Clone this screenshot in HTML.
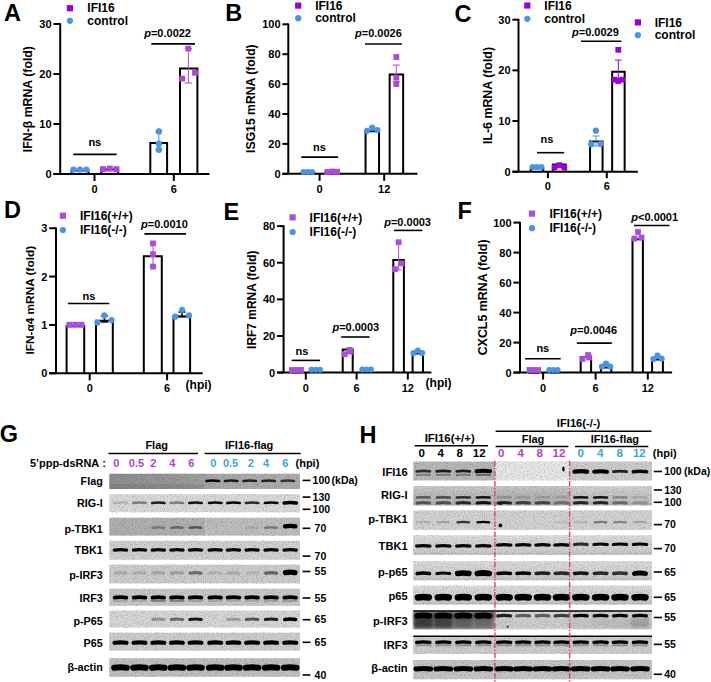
<!DOCTYPE html>
<html><head><meta charset="utf-8"><style>
html,body{margin:0;padding:0;background:#fff;overflow:hidden;}
svg{display:block;font-family:"Liberation Sans", sans-serif;}
</style></head><body>
<svg width="711" height="682" viewBox="0 0 711 682">
<rect width="711" height="682" fill="#fff"/>
<text x="4.00" y="20.80" font-size="23.5" text-anchor="start" fill="#000" font-weight="bold" >A</text>
<line x1="60.20" y1="23.20" x2="60.20" y2="174.00" stroke="#000" stroke-width="2" />
<line x1="53.40" y1="174.00" x2="60.20" y2="174.00" stroke="#000" stroke-width="2" />
<text x="51.60" y="177.96" font-size="11" text-anchor="end" fill="#000" font-weight="bold" >0</text>
<line x1="53.40" y1="124.00" x2="60.20" y2="124.00" stroke="#000" stroke-width="2" />
<text x="51.60" y="127.96" font-size="11" text-anchor="end" fill="#000" font-weight="bold" >10</text>
<line x1="53.40" y1="74.00" x2="60.20" y2="74.00" stroke="#000" stroke-width="2" />
<text x="51.60" y="77.96" font-size="11" text-anchor="end" fill="#000" font-weight="bold" >20</text>
<line x1="53.40" y1="24.00" x2="60.20" y2="24.00" stroke="#000" stroke-width="2" />
<text x="51.60" y="27.96" font-size="11" text-anchor="end" fill="#000" font-weight="bold" >30</text>
<path d="M71.60,174.00 V170.50 H88.40 V174.00" fill="#fff" stroke="#000" stroke-width="2"/>
<path d="M101.30,174.00 V169.50 H118.10 V174.00" fill="#fff" stroke="#000" stroke-width="2"/>
<path d="M150.30,174.00 V142.90 H167.10 V174.00" fill="#fff" stroke="#000" stroke-width="2"/>
<path d="M180.00,174.00 V68.60 H197.40 V174.00" fill="#fff" stroke="#000" stroke-width="2"/>
<line x1="53.40" y1="174.00" x2="209.40" y2="174.00" stroke="#000" stroke-width="2" />
<line x1="94.50" y1="174.00" x2="94.50" y2="181.00" stroke="#000" stroke-width="2" />
<text x="94.50" y="193.00" font-size="11" text-anchor="middle" fill="#000" font-weight="bold" >0</text>
<line x1="173.80" y1="174.00" x2="173.80" y2="181.00" stroke="#000" stroke-width="2" />
<text x="173.80" y="193.00" font-size="11" text-anchor="middle" fill="#000" font-weight="bold" >6</text>
<circle cx="73.50" cy="169.60" r="3.2" fill="#4a93e6"/>
<circle cx="79.90" cy="169.60" r="3.2" fill="#4a93e6"/>
<circle cx="86.30" cy="169.60" r="3.2" fill="#4a93e6"/>
<rect x="100.00" y="166.20" width="6" height="6" fill="#ac46de"/>
<rect x="106.70" y="165.60" width="6" height="6" fill="#ac46de"/>
<rect x="113.40" y="166.20" width="6" height="6" fill="#ac46de"/>
<line x1="158.90" y1="131.40" x2="158.90" y2="149.80" stroke="#4a93e6" stroke-width="1.0" />
<line x1="155.40" y1="131.40" x2="162.40" y2="131.40" stroke="#4a93e6" stroke-width="1.0" />
<line x1="155.40" y1="149.80" x2="162.40" y2="149.80" stroke="#4a93e6" stroke-width="1.0" />
<circle cx="158.90" cy="131.40" r="3.2" fill="#4a93e6"/>
<circle cx="158.90" cy="143.70" r="3.2" fill="#4a93e6"/>
<circle cx="158.90" cy="149.80" r="3.2" fill="#4a93e6"/>
<line x1="188.40" y1="48.60" x2="188.40" y2="83.00" stroke="#ac46de" stroke-width="1.0" />
<line x1="184.80" y1="48.60" x2="192.00" y2="48.60" stroke="#ac46de" stroke-width="1.0" />
<line x1="184.80" y1="83.00" x2="192.00" y2="83.00" stroke="#ac46de" stroke-width="1.0" />
<rect x="185.40" y="45.70" width="5.8" height="5.8" fill="#ac46de"/>
<rect x="179.20" y="75.70" width="5.8" height="5.8" fill="#ac46de"/>
<rect x="192.10" y="69.90" width="5.8" height="5.8" fill="#ac46de"/>
<text x="94.80" y="145.60" font-size="11" text-anchor="middle" fill="#000" font-weight="bold" >ns</text>
<line x1="73.30" y1="154.40" x2="116.60" y2="154.40" stroke="#000" stroke-width="1.6" />
<text x="144.20" y="36.90" font-size="11" text-anchor="start" font-weight="bold"><tspan font-style="italic">p</tspan>=0.0022</text>
<line x1="151.30" y1="43.90" x2="195.00" y2="43.90" stroke="#000" stroke-width="1.6" />
<rect x="66.80" y="5.10" width="6.2" height="6.2" fill="#9a00dc"/>
<circle cx="69.90" cy="20.80" r="3.1" fill="#4a93e6"/>
<text x="87.30" y="12.40" font-size="12" text-anchor="start" fill="#000" font-weight="bold" >IFI16</text>
<text x="87.30" y="24.80" font-size="12" text-anchor="start" fill="#000" font-weight="bold" >control</text>
<text transform="translate(32.20,99.10) rotate(-90)" x="0" y="0" font-size="12.3" text-anchor="middle" font-weight="bold">IFN-β mRNA (fold)</text>
<text x="225.20" y="20.80" font-size="23.5" text-anchor="start" fill="#000" font-weight="bold" >B</text>
<line x1="288.30" y1="23.50" x2="288.30" y2="173.80" stroke="#000" stroke-width="2" />
<line x1="282.40" y1="173.80" x2="288.30" y2="173.80" stroke="#000" stroke-width="2" />
<text x="280.60" y="177.76" font-size="11" text-anchor="end" fill="#000" font-weight="bold" >0</text>
<line x1="282.40" y1="143.90" x2="288.30" y2="143.90" stroke="#000" stroke-width="2" />
<text x="280.60" y="147.86" font-size="11" text-anchor="end" fill="#000" font-weight="bold" >20</text>
<line x1="282.40" y1="114.00" x2="288.30" y2="114.00" stroke="#000" stroke-width="2" />
<text x="280.60" y="117.96" font-size="11" text-anchor="end" fill="#000" font-weight="bold" >40</text>
<line x1="282.40" y1="84.10" x2="288.30" y2="84.10" stroke="#000" stroke-width="2" />
<text x="280.60" y="88.06" font-size="11" text-anchor="end" fill="#000" font-weight="bold" >60</text>
<line x1="282.40" y1="54.20" x2="288.30" y2="54.20" stroke="#000" stroke-width="2" />
<text x="280.60" y="58.16" font-size="11" text-anchor="end" fill="#000" font-weight="bold" >80</text>
<line x1="282.40" y1="24.30" x2="288.30" y2="24.30" stroke="#000" stroke-width="2" />
<text x="280.60" y="28.26" font-size="11" text-anchor="end" fill="#000" font-weight="bold" >100</text>
<path d="M301.05,173.80 V173.60 H314.55 V173.80" fill="#fff" stroke="#000" stroke-width="2"/>
<path d="M325.45,173.80 V173.01 H338.95 V173.80" fill="#fff" stroke="#000" stroke-width="2"/>
<path d="M365.55,173.80 V131.20 H379.05 V173.80" fill="#fff" stroke="#000" stroke-width="2"/>
<path d="M389.65,173.80 V74.40 H403.15 V173.80" fill="#fff" stroke="#000" stroke-width="2"/>
<line x1="282.40" y1="173.80" x2="417.40" y2="173.80" stroke="#000" stroke-width="2" />
<line x1="319.60" y1="173.80" x2="319.60" y2="180.80" stroke="#000" stroke-width="2" />
<text x="319.60" y="193.00" font-size="11" text-anchor="middle" fill="#000" font-weight="bold" >0</text>
<line x1="384.20" y1="173.80" x2="384.20" y2="180.80" stroke="#000" stroke-width="2" />
<text x="384.20" y="193.00" font-size="11" text-anchor="middle" fill="#000" font-weight="bold" >12</text>
<circle cx="303.50" cy="172.00" r="3.0" fill="#4a93e6"/>
<circle cx="307.80" cy="172.00" r="3.0" fill="#4a93e6"/>
<circle cx="312.10" cy="172.00" r="3.0" fill="#4a93e6"/>
<rect x="324.40" y="169.10" width="5.8" height="5.8" fill="#ac46de"/>
<rect x="329.30" y="168.60" width="5.8" height="5.8" fill="#ac46de"/>
<rect x="334.20" y="168.90" width="5.8" height="5.8" fill="#ac46de"/>
<circle cx="367.00" cy="130.80" r="3.1" fill="#4a93e6"/>
<circle cx="372.20" cy="127.50" r="3.1" fill="#4a93e6"/>
<circle cx="377.40" cy="130.00" r="3.1" fill="#4a93e6"/>
<line x1="396.30" y1="65.10" x2="396.30" y2="82.00" stroke="#ac46de" stroke-width="1.0" />
<line x1="392.70" y1="65.10" x2="399.90" y2="65.10" stroke="#ac46de" stroke-width="1.0" />
<line x1="392.70" y1="82.00" x2="399.90" y2="82.00" stroke="#ac46de" stroke-width="1.0" />
<rect x="393.40" y="54.10" width="5.8" height="5.8" fill="#ac46de"/>
<rect x="393.40" y="74.70" width="5.8" height="5.8" fill="#ac46de"/>
<rect x="393.40" y="81.10" width="5.8" height="5.8" fill="#ac46de"/>
<text x="319.40" y="150.60" font-size="11" text-anchor="middle" fill="#000" font-weight="bold" >ns</text>
<line x1="301.30" y1="157.10" x2="338.10" y2="157.10" stroke="#000" stroke-width="1.6" />
<text x="355.00" y="37.10" font-size="11" text-anchor="start" font-weight="bold"><tspan font-style="italic">p</tspan>=0.0026</text>
<line x1="365.00" y1="44.00" x2="401.90" y2="44.00" stroke="#000" stroke-width="1.6" />
<rect x="295.10" y="2.50" width="6.2" height="6.2" fill="#9a00dc"/>
<circle cx="298.20" cy="18.20" r="3.1" fill="#4a93e6"/>
<text x="315.20" y="9.80" font-size="12" text-anchor="start" fill="#000" font-weight="bold" >IFI16</text>
<text x="315.20" y="22.20" font-size="12" text-anchor="start" fill="#000" font-weight="bold" >control</text>
<text transform="translate(255.30,98.60) rotate(-90)" x="0" y="0" font-size="12.2" text-anchor="middle" font-weight="bold">ISG15 mRNA (fold)</text>
<text x="454.60" y="21.60" font-size="23.5" text-anchor="start" fill="#000" font-weight="bold" >C</text>
<line x1="518.50" y1="18.90" x2="518.50" y2="171.70" stroke="#000" stroke-width="2" />
<line x1="512.40" y1="171.70" x2="518.50" y2="171.70" stroke="#000" stroke-width="2" />
<text x="510.60" y="175.66" font-size="11" text-anchor="end" fill="#000" font-weight="bold" >0</text>
<line x1="512.40" y1="121.03" x2="518.50" y2="121.03" stroke="#000" stroke-width="2" />
<text x="510.60" y="124.99" font-size="11" text-anchor="end" fill="#000" font-weight="bold" >10</text>
<line x1="512.40" y1="70.37" x2="518.50" y2="70.37" stroke="#000" stroke-width="2" />
<text x="510.60" y="74.33" font-size="11" text-anchor="end" fill="#000" font-weight="bold" >20</text>
<line x1="512.40" y1="19.70" x2="518.50" y2="19.70" stroke="#000" stroke-width="2" />
<text x="510.60" y="23.66" font-size="11" text-anchor="end" fill="#000" font-weight="bold" >30</text>
<path d="M530.75,171.70 V168.14 H543.25 V171.70" fill="#fff" stroke="#000" stroke-width="2"/>
<path d="M553.15,171.70 V164.59 H565.65 V171.70" fill="#fff" stroke="#000" stroke-width="2"/>
<path d="M590.05,171.70 V141.60 H602.55 V171.70" fill="#fff" stroke="#000" stroke-width="2"/>
<path d="M612.15,171.70 V71.80 H624.65 V171.70" fill="#fff" stroke="#000" stroke-width="2"/>
<line x1="512.40" y1="171.70" x2="637.80" y2="171.70" stroke="#000" stroke-width="2" />
<line x1="547.90" y1="171.70" x2="547.90" y2="178.20" stroke="#000" stroke-width="2" />
<text x="547.90" y="189.80" font-size="11" text-anchor="middle" fill="#000" font-weight="bold" >0</text>
<line x1="606.80" y1="171.70" x2="606.80" y2="178.20" stroke="#000" stroke-width="2" />
<text x="606.80" y="189.80" font-size="11" text-anchor="middle" fill="#000" font-weight="bold" >6</text>
<circle cx="532.60" cy="167.10" r="3.0" fill="#4a93e6"/>
<circle cx="537.00" cy="167.10" r="3.0" fill="#4a93e6"/>
<circle cx="541.40" cy="167.10" r="3.0" fill="#4a93e6"/>
<rect x="551.60" y="164.60" width="5.8" height="5.8" fill="#9a00dc"/>
<rect x="556.50" y="162.30" width="5.8" height="5.8" fill="#9a00dc"/>
<rect x="561.40" y="164.60" width="5.8" height="5.8" fill="#9a00dc"/>
<line x1="595.90" y1="136.00" x2="595.90" y2="146.00" stroke="#4a93e6" stroke-width="1.0" />
<line x1="592.40" y1="136.00" x2="599.40" y2="136.00" stroke="#4a93e6" stroke-width="1.0" />
<line x1="592.40" y1="146.00" x2="599.40" y2="146.00" stroke="#4a93e6" stroke-width="1.0" />
<circle cx="595.90" cy="130.70" r="3.1" fill="#4a93e6"/>
<circle cx="591.20" cy="144.20" r="3.1" fill="#4a93e6"/>
<circle cx="600.60" cy="143.80" r="3.1" fill="#4a93e6"/>
<line x1="618.30" y1="60.10" x2="618.30" y2="80.00" stroke="#9a00dc" stroke-width="1.0" />
<line x1="614.80" y1="60.10" x2="621.80" y2="60.10" stroke="#9a00dc" stroke-width="1.0" />
<line x1="614.80" y1="80.00" x2="621.80" y2="80.00" stroke="#9a00dc" stroke-width="1.0" />
<rect x="615.40" y="46.90" width="5.8" height="5.8" fill="#9a00dc"/>
<rect x="611.50" y="76.80" width="5.8" height="5.8" fill="#9a00dc"/>
<rect x="619.30" y="76.80" width="5.8" height="5.8" fill="#9a00dc"/>
<rect x="615.40" y="78.10" width="5.8" height="5.8" fill="#9a00dc"/>
<text x="547.00" y="142.60" font-size="11" text-anchor="middle" fill="#000" font-weight="bold" >ns</text>
<line x1="537.00" y1="152.70" x2="564.20" y2="152.70" stroke="#000" stroke-width="1.6" />
<text x="572.00" y="35.70" font-size="11" text-anchor="start" font-weight="bold"><tspan font-style="italic">p</tspan>=0.0029</text>
<line x1="581.00" y1="41.30" x2="621.40" y2="41.30" stroke="#000" stroke-width="1.6" />
<rect x="524.20" y="2.40" width="6.2" height="6.2" fill="#9a00dc"/>
<circle cx="527.30" cy="18.80" r="3.1" fill="#4a93e6"/>
<text x="544.30" y="9.70" font-size="12" text-anchor="start" fill="#000" font-weight="bold" >IFI16</text>
<text x="544.30" y="22.80" font-size="12" text-anchor="start" fill="#000" font-weight="bold" >control</text>
<rect x="634.80" y="19.30" width="6.2" height="6.2" fill="#9a00dc"/>
<circle cx="637.90" cy="35.20" r="3.1" fill="#4a93e6"/>
<text x="654.70" y="26.60" font-size="12" text-anchor="start" fill="#000" font-weight="bold" >IFI16</text>
<text x="654.70" y="39.20" font-size="12" text-anchor="start" fill="#000" font-weight="bold" >control</text>
<text transform="translate(491.70,95.50) rotate(-90)" x="0" y="0" font-size="12.36" text-anchor="middle" font-weight="bold">IL-6 mRNA (fold)</text>
<text x="4.00" y="217.80" font-size="23.5" text-anchor="start" fill="#000" font-weight="bold" >D</text>
<line x1="56.00" y1="227.40" x2="56.00" y2="373.30" stroke="#000" stroke-width="2" />
<line x1="49.20" y1="373.30" x2="56.00" y2="373.30" stroke="#000" stroke-width="2" />
<text x="47.40" y="377.26" font-size="11" text-anchor="end" fill="#000" font-weight="bold" >0</text>
<line x1="49.20" y1="324.93" x2="56.00" y2="324.93" stroke="#000" stroke-width="2" />
<text x="47.40" y="328.89" font-size="11" text-anchor="end" fill="#000" font-weight="bold" >1</text>
<line x1="49.20" y1="276.57" x2="56.00" y2="276.57" stroke="#000" stroke-width="2" />
<text x="47.40" y="280.53" font-size="11" text-anchor="end" fill="#000" font-weight="bold" >2</text>
<line x1="49.20" y1="228.20" x2="56.00" y2="228.20" stroke="#000" stroke-width="2" />
<text x="47.40" y="232.16" font-size="11" text-anchor="end" fill="#000" font-weight="bold" >3</text>
<path d="M66.60,373.30 V325.93 H84.20 V373.30" fill="#fff" stroke="#000" stroke-width="2"/>
<path d="M96.00,373.30 V320.70 H112.80 V373.30" fill="#fff" stroke="#000" stroke-width="2"/>
<path d="M143.80,373.30 V256.30 H161.80 V373.30" fill="#fff" stroke="#000" stroke-width="2"/>
<path d="M173.50,373.30 V316.40 H190.10 V373.30" fill="#fff" stroke="#000" stroke-width="2"/>
<line x1="49.20" y1="373.30" x2="202.70" y2="373.30" stroke="#000" stroke-width="2" />
<line x1="89.70" y1="373.30" x2="89.70" y2="380.30" stroke="#000" stroke-width="2" />
<text x="89.70" y="391.50" font-size="11" text-anchor="middle" fill="#000" font-weight="bold" >0</text>
<line x1="167.10" y1="373.30" x2="167.10" y2="380.30" stroke="#000" stroke-width="2" />
<text x="167.10" y="391.50" font-size="11" text-anchor="middle" fill="#000" font-weight="bold" >6</text>
<text x="185.60" y="388.80" font-size="12" text-anchor="start" fill="#000" font-weight="bold" >(hpi)</text>
<rect x="66.40" y="321.80" width="6" height="6" fill="#a84fdc"/>
<rect x="72.40" y="321.80" width="6" height="6" fill="#a84fdc"/>
<rect x="78.40" y="321.80" width="6" height="6" fill="#a84fdc"/>
<line x1="104.40" y1="316.00" x2="104.40" y2="322.00" stroke="#000" stroke-width="1.5" />
<line x1="100.90" y1="316.00" x2="107.90" y2="316.00" stroke="#000" stroke-width="1.5" />
<line x1="100.90" y1="322.00" x2="107.90" y2="322.00" stroke="#000" stroke-width="1.5" />
<circle cx="104.30" cy="315.40" r="3.1" fill="#4a93e6"/>
<circle cx="97.40" cy="322.60" r="3.1" fill="#4a93e6"/>
<circle cx="111.60" cy="320.10" r="3.1" fill="#4a93e6"/>
<line x1="153.00" y1="243.40" x2="153.00" y2="266.60" stroke="#a84fdc" stroke-width="1.0" />
<line x1="149.50" y1="243.40" x2="156.50" y2="243.40" stroke="#a84fdc" stroke-width="1.0" />
<line x1="149.50" y1="266.60" x2="156.50" y2="266.60" stroke="#a84fdc" stroke-width="1.0" />
<rect x="150.10" y="240.50" width="5.8" height="5.8" fill="#a84fdc"/>
<rect x="150.10" y="251.30" width="5.8" height="5.8" fill="#a84fdc"/>
<rect x="150.10" y="263.70" width="5.8" height="5.8" fill="#a84fdc"/>
<line x1="182.00" y1="312.00" x2="182.00" y2="316.50" stroke="#000" stroke-width="1.5" />
<line x1="178.50" y1="312.00" x2="185.50" y2="312.00" stroke="#000" stroke-width="1.5" />
<line x1="178.50" y1="316.50" x2="185.50" y2="316.50" stroke="#000" stroke-width="1.5" />
<circle cx="182.10" cy="309.80" r="3.1" fill="#4a93e6"/>
<circle cx="175.20" cy="316.70" r="3.1" fill="#4a93e6"/>
<circle cx="189.00" cy="315.40" r="3.1" fill="#4a93e6"/>
<text x="89.00" y="300.20" font-size="11" text-anchor="middle" fill="#000" font-weight="bold" >ns</text>
<line x1="67.90" y1="303.50" x2="109.20" y2="303.50" stroke="#000" stroke-width="1.6" />
<text x="141.00" y="228.30" font-size="11" text-anchor="start" font-weight="bold"><tspan font-style="italic">p</tspan>=0.0010</text>
<line x1="144.40" y1="233.90" x2="186.00" y2="233.90" stroke="#000" stroke-width="1.6" />
<rect x="59.80" y="212.60" width="6.2" height="6.2" fill="#a84fdc"/>
<circle cx="62.90" cy="230.00" r="3.1" fill="#4a93e6"/>
<text x="80.00" y="219.90" font-size="12" text-anchor="start" fill="#000" font-weight="bold" >IFI16(+/+)</text>
<text x="80.00" y="234.00" font-size="12" text-anchor="start" fill="#000" font-weight="bold" >IFI16(-/-)</text>
<text transform="translate(34.10,300.20) rotate(-90)" x="0" y="0" font-size="11.84" text-anchor="middle" font-weight="bold">IFN-α4 mRNA (fold)</text>
<text x="223.60" y="219.60" font-size="23.5" text-anchor="start" fill="#000" font-weight="bold" >E</text>
<line x1="283.60" y1="225.30" x2="283.60" y2="372.60" stroke="#000" stroke-width="2" />
<line x1="277.00" y1="372.60" x2="283.60" y2="372.60" stroke="#000" stroke-width="2" />
<text x="275.20" y="376.56" font-size="11" text-anchor="end" fill="#000" font-weight="bold" >0</text>
<line x1="277.00" y1="335.98" x2="283.60" y2="335.98" stroke="#000" stroke-width="2" />
<text x="275.20" y="339.94" font-size="11" text-anchor="end" fill="#000" font-weight="bold" >20</text>
<line x1="277.00" y1="299.35" x2="283.60" y2="299.35" stroke="#000" stroke-width="2" />
<text x="275.20" y="303.31" font-size="11" text-anchor="end" fill="#000" font-weight="bold" >40</text>
<line x1="277.00" y1="262.73" x2="283.60" y2="262.73" stroke="#000" stroke-width="2" />
<text x="275.20" y="266.69" font-size="11" text-anchor="end" fill="#000" font-weight="bold" >60</text>
<line x1="277.00" y1="226.10" x2="283.60" y2="226.10" stroke="#000" stroke-width="2" />
<text x="275.20" y="230.06" font-size="11" text-anchor="end" fill="#000" font-weight="bold" >80</text>
<path d="M291.50,372.60 V372.14 H301.50 V372.60" fill="#fff" stroke="#000" stroke-width="2"/>
<path d="M310.70,372.60 V371.77 H320.70 V372.60" fill="#fff" stroke="#000" stroke-width="2"/>
<path d="M342.70,372.60 V349.50 H352.70 V372.60" fill="#fff" stroke="#000" stroke-width="2"/>
<path d="M361.60,372.60 V371.40 H371.60 V372.60" fill="#fff" stroke="#000" stroke-width="2"/>
<path d="M393.30,372.60 V260.10 H403.90 V372.60" fill="#fff" stroke="#000" stroke-width="2"/>
<path d="M412.60,372.60 V353.50 H423.00 V372.60" fill="#fff" stroke="#000" stroke-width="2"/>
<line x1="277.00" y1="372.60" x2="431.40" y2="372.60" stroke="#000" stroke-width="2" />
<line x1="305.80" y1="372.60" x2="305.80" y2="379.60" stroke="#000" stroke-width="2" />
<text x="305.80" y="391.50" font-size="11" text-anchor="middle" fill="#000" font-weight="bold" >0</text>
<line x1="356.60" y1="372.60" x2="356.60" y2="379.60" stroke="#000" stroke-width="2" />
<text x="356.60" y="391.50" font-size="11" text-anchor="middle" fill="#000" font-weight="bold" >6</text>
<line x1="407.80" y1="372.60" x2="407.80" y2="379.60" stroke="#000" stroke-width="2" />
<text x="407.80" y="391.50" font-size="11" text-anchor="middle" fill="#000" font-weight="bold" >12</text>
<text x="425.60" y="386.90" font-size="12" text-anchor="start" fill="#000" font-weight="bold" >(hpi)</text>
<rect x="289.10" y="367.10" width="5.8" height="5.8" fill="#a84fdc"/>
<rect x="293.60" y="367.10" width="5.8" height="5.8" fill="#a84fdc"/>
<rect x="298.10" y="367.10" width="5.8" height="5.8" fill="#a84fdc"/>
<circle cx="311.40" cy="369.80" r="3.0" fill="#4a93e6"/>
<circle cx="315.70" cy="369.80" r="3.0" fill="#4a93e6"/>
<circle cx="320.00" cy="369.80" r="3.0" fill="#4a93e6"/>
<rect x="341.90" y="351.30" width="5.8" height="5.8" fill="#a84fdc"/>
<rect x="347.30" y="348.70" width="5.8" height="5.8" fill="#a84fdc"/>
<rect x="346.70" y="347.00" width="5.8" height="5.8" fill="#a84fdc"/>
<circle cx="362.30" cy="369.50" r="3.0" fill="#4a93e6"/>
<circle cx="366.60" cy="369.50" r="3.0" fill="#4a93e6"/>
<circle cx="370.90" cy="369.50" r="3.0" fill="#4a93e6"/>
<line x1="398.60" y1="242.20" x2="398.60" y2="270.00" stroke="#a84fdc" stroke-width="1.0" />
<line x1="395.60" y1="242.20" x2="401.60" y2="242.20" stroke="#a84fdc" stroke-width="1.0" />
<line x1="395.60" y1="270.00" x2="401.60" y2="270.00" stroke="#a84fdc" stroke-width="1.0" />
<rect x="395.70" y="239.30" width="5.8" height="5.8" fill="#a84fdc"/>
<rect x="398.70" y="260.40" width="5.8" height="5.8" fill="#a84fdc"/>
<rect x="392.00" y="266.30" width="5.8" height="5.8" fill="#a84fdc"/>
<circle cx="413.50" cy="353.00" r="3.1" fill="#4a93e6"/>
<circle cx="417.80" cy="350.50" r="3.1" fill="#4a93e6"/>
<circle cx="422.10" cy="353.00" r="3.1" fill="#4a93e6"/>
<text x="302.00" y="354.80" font-size="11" text-anchor="middle" fill="#000" font-weight="bold" >ns</text>
<line x1="291.70" y1="360.40" x2="320.00" y2="360.40" stroke="#000" stroke-width="1.6" />
<text x="332.40" y="331.30" font-size="11" text-anchor="start" font-weight="bold"><tspan font-style="italic">p</tspan>=0.0003</text>
<line x1="341.20" y1="337.00" x2="369.60" y2="337.00" stroke="#000" stroke-width="1.6" />
<text x="384.20" y="226.40" font-size="11" text-anchor="start" font-weight="bold"><tspan font-style="italic">p</tspan>=0.0003</text>
<line x1="394.00" y1="230.40" x2="422.40" y2="230.40" stroke="#000" stroke-width="1.6" />
<rect x="289.50" y="214.30" width="6.2" height="6.2" fill="#a84fdc"/>
<circle cx="292.60" cy="232.00" r="3.1" fill="#4a93e6"/>
<text x="309.60" y="221.60" font-size="12" text-anchor="start" fill="#000" font-weight="bold" >IFI16(+/+)</text>
<text x="309.60" y="236.00" font-size="12" text-anchor="start" fill="#000" font-weight="bold" >IFI16(-/-)</text>
<text transform="translate(255.80,299.70) rotate(-90)" x="0" y="0" font-size="11.94" text-anchor="middle" font-weight="bold">IRF7 mRNA (fold)</text>
<text x="457.60" y="218.60" font-size="23.5" text-anchor="start" fill="#000" font-weight="bold" >F</text>
<line x1="520.00" y1="221.80" x2="520.00" y2="372.60" stroke="#000" stroke-width="2" />
<line x1="513.40" y1="372.60" x2="520.00" y2="372.60" stroke="#000" stroke-width="2" />
<text x="511.60" y="376.56" font-size="11" text-anchor="end" fill="#000" font-weight="bold" >0</text>
<line x1="513.40" y1="342.60" x2="520.00" y2="342.60" stroke="#000" stroke-width="2" />
<text x="511.60" y="346.56" font-size="11" text-anchor="end" fill="#000" font-weight="bold" >20</text>
<line x1="513.40" y1="312.60" x2="520.00" y2="312.60" stroke="#000" stroke-width="2" />
<text x="511.60" y="316.56" font-size="11" text-anchor="end" fill="#000" font-weight="bold" >40</text>
<line x1="513.40" y1="282.60" x2="520.00" y2="282.60" stroke="#000" stroke-width="2" />
<text x="511.60" y="286.56" font-size="11" text-anchor="end" fill="#000" font-weight="bold" >60</text>
<line x1="513.40" y1="252.60" x2="520.00" y2="252.60" stroke="#000" stroke-width="2" />
<text x="511.60" y="256.56" font-size="11" text-anchor="end" fill="#000" font-weight="bold" >80</text>
<line x1="513.40" y1="222.60" x2="520.00" y2="222.60" stroke="#000" stroke-width="2" />
<text x="511.60" y="226.56" font-size="11" text-anchor="end" fill="#000" font-weight="bold" >100</text>
<path d="M528.60,372.60 V372.40 H539.00 V372.60" fill="#fff" stroke="#000" stroke-width="2"/>
<path d="M548.20,372.60 V372.25 H558.60 V372.60" fill="#fff" stroke="#000" stroke-width="2"/>
<path d="M580.70,372.60 V356.90 H591.10 V372.60" fill="#fff" stroke="#000" stroke-width="2"/>
<path d="M600.90,372.60 V367.60 H611.30 V372.60" fill="#fff" stroke="#000" stroke-width="2"/>
<path d="M632.50,372.60 V239.30 H642.90 V372.60" fill="#fff" stroke="#000" stroke-width="2"/>
<path d="M652.10,372.60 V359.50 H662.90 V372.60" fill="#fff" stroke="#000" stroke-width="2"/>
<line x1="513.40" y1="372.60" x2="672.10" y2="372.60" stroke="#000" stroke-width="2" />
<line x1="543.10" y1="372.60" x2="543.10" y2="379.60" stroke="#000" stroke-width="2" />
<text x="543.10" y="391.50" font-size="11" text-anchor="middle" fill="#000" font-weight="bold" >0</text>
<line x1="595.60" y1="372.60" x2="595.60" y2="379.60" stroke="#000" stroke-width="2" />
<text x="595.60" y="391.50" font-size="11" text-anchor="middle" fill="#000" font-weight="bold" >6</text>
<line x1="647.80" y1="372.60" x2="647.80" y2="379.60" stroke="#000" stroke-width="2" />
<text x="647.80" y="391.50" font-size="11" text-anchor="middle" fill="#000" font-weight="bold" >12</text>
<rect x="526.60" y="367.10" width="5.8" height="5.8" fill="#a84fdc"/>
<rect x="530.90" y="367.10" width="5.8" height="5.8" fill="#a84fdc"/>
<rect x="535.20" y="367.10" width="5.8" height="5.8" fill="#a84fdc"/>
<circle cx="549.20" cy="370.00" r="3.0" fill="#4a93e6"/>
<circle cx="553.40" cy="370.00" r="3.0" fill="#4a93e6"/>
<circle cx="557.60" cy="370.00" r="3.0" fill="#4a93e6"/>
<rect x="579.60" y="356.10" width="5.8" height="5.8" fill="#a84fdc"/>
<rect x="585.10" y="352.10" width="5.8" height="5.8" fill="#a84fdc"/>
<rect x="586.10" y="354.60" width="5.8" height="5.8" fill="#a84fdc"/>
<circle cx="602.00" cy="366.50" r="3.1" fill="#4a93e6"/>
<circle cx="606.10" cy="363.50" r="3.1" fill="#4a93e6"/>
<circle cx="610.20" cy="366.50" r="3.1" fill="#4a93e6"/>
<rect x="635.10" y="229.10" width="5.8" height="5.8" fill="#a84fdc"/>
<rect x="631.60" y="235.60" width="5.8" height="5.8" fill="#a84fdc"/>
<rect x="638.60" y="234.60" width="5.8" height="5.8" fill="#a84fdc"/>
<circle cx="653.40" cy="359.00" r="3.1" fill="#4a93e6"/>
<circle cx="657.50" cy="355.50" r="3.1" fill="#4a93e6"/>
<circle cx="661.60" cy="358.50" r="3.1" fill="#4a93e6"/>
<text x="542.80" y="352.00" font-size="11" text-anchor="middle" fill="#000" font-weight="bold" >ns</text>
<line x1="525.10" y1="358.80" x2="560.70" y2="358.80" stroke="#000" stroke-width="1.6" />
<text x="570.30" y="333.90" font-size="11" text-anchor="start" font-weight="bold"><tspan font-style="italic">p</tspan>=0.0046</text>
<line x1="576.90" y1="343.10" x2="611.80" y2="343.10" stroke="#000" stroke-width="1.6" />
<text x="631.3" y="221" font-size="11" font-weight="bold"><tspan font-style="italic">p</tspan>&lt;0.0001</text>
<line x1="633.90" y1="225.50" x2="669.50" y2="225.50" stroke="#000" stroke-width="1.6" />
<rect x="528.90" y="210.50" width="6.2" height="6.2" fill="#a84fdc"/>
<circle cx="532.00" cy="228.20" r="3.1" fill="#4a93e6"/>
<text x="549.40" y="217.80" font-size="12" text-anchor="start" fill="#000" font-weight="bold" >IFI16(+/+)</text>
<text x="549.40" y="232.20" font-size="12" text-anchor="start" fill="#000" font-weight="bold" >IFI16(-/-)</text>
<text transform="translate(486.70,297.40) rotate(-90)" x="0" y="0" font-size="12.4" text-anchor="middle" font-weight="bold">CXCL5 mRNA (fold)</text>
<defs>
<filter id="noise" x="0" y="0" width="100%" height="100%"><feTurbulence type="fractalNoise" baseFrequency="0.9" numOctaves="2" seed="3"/><feColorMatrix type="matrix" values="0 0 0 0 0  0 0 0 0 0  0 0 0 0 0  2.2 0 0 0 -0.95"/></filter>
<filter id="bl20" filterUnits="userSpaceOnUse" x="0" y="0" width="711" height="682"><feGaussianBlur stdDeviation="1.8"/></filter>
<filter id="bl7" filterUnits="userSpaceOnUse" x="0" y="0" width="711" height="682"><feGaussianBlur stdDeviation="0.65"/></filter>
</defs>
<text x="-0.20" y="441.90" font-size="23.5" text-anchor="start" fill="#000" font-weight="bold" >G</text>
<text x="156.70" y="448.80" font-size="11" text-anchor="middle" fill="#000" font-weight="bold" >Flag</text>
<line x1="108.50" y1="453.40" x2="198.10" y2="453.40" stroke="#000" stroke-width="1.5" />
<text x="249.20" y="448.80" font-size="11" text-anchor="middle" fill="#000" font-weight="bold" >IFI16-flag</text>
<line x1="204.60" y1="453.40" x2="300.60" y2="453.40" stroke="#000" stroke-width="1.5" />
<text x="99.20" y="467.20" font-size="10.95" text-anchor="end" fill="#000" font-weight="bold" >5’ppp-dsRNA</text>
<text x="102.20" y="466.60" font-size="11" text-anchor="start" fill="#000" font-weight="bold" >:</text>
<text x="116.40" y="467.20" font-size="11" text-anchor="middle" fill="#b23fd0" font-weight="bold" >0</text>
<text x="136.50" y="467.20" font-size="11" text-anchor="middle" fill="#b23fd0" font-weight="bold" >0.5</text>
<text x="153.20" y="467.20" font-size="11" text-anchor="middle" fill="#b23fd0" font-weight="bold" >2</text>
<text x="172.20" y="467.20" font-size="11" text-anchor="middle" fill="#b23fd0" font-weight="bold" >4</text>
<text x="191.20" y="467.20" font-size="11" text-anchor="middle" fill="#b23fd0" font-weight="bold" >6</text>
<text x="213.30" y="467.20" font-size="11" text-anchor="middle" fill="#3aa4dc" font-weight="bold" >0</text>
<text x="230.60" y="467.20" font-size="11" text-anchor="middle" fill="#3aa4dc" font-weight="bold" >0.5</text>
<text x="250.70" y="467.20" font-size="11" text-anchor="middle" fill="#3aa4dc" font-weight="bold" >2</text>
<text x="266.00" y="467.20" font-size="11" text-anchor="middle" fill="#3aa4dc" font-weight="bold" >4</text>
<text x="285.30" y="467.20" font-size="11" text-anchor="middle" fill="#3aa4dc" font-weight="bold" >6</text>
<text x="295.50" y="467.20" font-size="11" text-anchor="start" fill="#000" font-weight="bold" >(hpi)</text>
<linearGradient id="fg" gradientUnits="userSpaceOnUse" x1="109" y1="0" x2="300" y2="0"><stop offset="0" stop-color="#909090"/><stop offset="0.35" stop-color="#9a9a9a"/><stop offset="0.5" stop-color="#a3a3a3"/><stop offset="0.56" stop-color="#acacac"/><stop offset="1" stop-color="#b0b0b0"/></linearGradient>
<rect x="109.30" y="473.80" width="190.70" height="15.20" fill="url(#fg)"/>
<rect x="109.30" y="484.00" width="95" height="5" fill="#000" opacity="0.08"/>
<rect x="109.30" y="473.80" width="190.70" height="15.20" fill="#000" filter="url(#noise)" opacity="0.22"/>
<g filter="url(#bl7)"><path d="M206.50,481.00 Q212.80,480.00 219.10,481.00" stroke="#000" stroke-opacity="1.00" stroke-width="2.40" stroke-linecap="round" fill="none"/><path d="M224.80,481.00 Q231.10,480.00 237.40,481.00" stroke="#000" stroke-opacity="0.85" stroke-width="2.40" stroke-linecap="round" fill="none"/><path d="M243.40,481.00 Q249.70,480.00 256.00,481.00" stroke="#000" stroke-opacity="0.80" stroke-width="2.40" stroke-linecap="round" fill="none"/><path d="M262.40,481.00 Q268.70,480.00 275.00,481.00" stroke="#000" stroke-opacity="0.80" stroke-width="2.40" stroke-linecap="round" fill="none"/><path d="M281.50,481.00 Q287.80,480.00 294.10,481.00" stroke="#000" stroke-opacity="0.70" stroke-width="2.40" stroke-linecap="round" fill="none"/></g>
<text x="102.80" y="485.30" font-size="10.8" text-anchor="end" fill="#000" font-weight="bold" >Flag</text>
<rect x="109.30" y="494.20" width="190.70" height="17.90" fill="#dcdcdc"/>
<rect x="109.30" y="494.20" width="190.70" height="17.90" fill="#000" filter="url(#noise)" opacity="0.22"/>
<g filter="url(#bl7)"><path d="M114.25,503.00 Q120.50,502.00 126.75,503.00" stroke="#000" stroke-opacity="0.15" stroke-width="2.50" stroke-linecap="round" fill="none"/><path d="M133.25,503.00 Q139.50,502.00 145.75,503.00" stroke="#000" stroke-opacity="0.40" stroke-width="2.50" stroke-linecap="round" fill="none"/><path d="M152.05,503.00 Q158.30,502.00 164.55,503.00" stroke="#000" stroke-opacity="0.85" stroke-width="2.50" stroke-linecap="round" fill="none"/><path d="M170.65,503.00 Q176.90,502.00 183.15,503.00" stroke="#000" stroke-opacity="0.40" stroke-width="2.50" stroke-linecap="round" fill="none"/><path d="M189.25,503.00 Q195.50,502.00 201.75,503.00" stroke="#000" stroke-opacity="0.90" stroke-width="2.50" stroke-linecap="round" fill="none"/><path d="M208.95,503.00 Q215.20,502.00 221.45,503.00" stroke="#000" stroke-opacity="0.95" stroke-width="2.50" stroke-linecap="round" fill="none"/><path d="M227.25,503.00 Q233.50,502.00 239.75,503.00" stroke="#000" stroke-opacity="1.00" stroke-width="2.50" stroke-linecap="round" fill="none"/><path d="M245.85,503.00 Q252.10,502.00 258.35,503.00" stroke="#000" stroke-opacity="0.80" stroke-width="2.50" stroke-linecap="round" fill="none"/><path d="M264.85,503.00 Q271.10,502.00 277.35,503.00" stroke="#000" stroke-opacity="0.97" stroke-width="2.50" stroke-linecap="round" fill="none"/><path d="M284.14,503.00 Q290.20,502.00 296.26,503.00" stroke="#000" stroke-opacity="1.00" stroke-width="3.62" stroke-linecap="round" fill="none"/></g>
<text x="102.80" y="507.20" font-size="10.8" text-anchor="end" fill="#000" font-weight="bold" >RIG-I</text>
<rect x="109.30" y="517.80" width="96.20" height="17.80" fill="#b2b2b2"/>
<rect x="205.50" y="517.80" width="94.50" height="17.80" fill="#c0c0c0"/>
<rect x="109.30" y="517.80" width="190.70" height="17.80" fill="#000" filter="url(#noise)" opacity="0.22"/>
<g filter="url(#bl7)"><path d="M152.60,527.70 Q158.30,526.70 164.00,527.70" stroke="#000" stroke-opacity="0.30" stroke-width="2.60" stroke-linecap="round" fill="none"/><path d="M171.20,527.70 Q176.90,526.70 182.60,527.70" stroke="#000" stroke-opacity="0.40" stroke-width="2.60" stroke-linecap="round" fill="none"/><path d="M189.80,527.70 Q195.50,526.70 201.20,527.70" stroke="#000" stroke-opacity="0.50" stroke-width="2.60" stroke-linecap="round" fill="none"/><path d="M246.40,527.70 Q252.10,526.70 257.80,527.70" stroke="#000" stroke-opacity="0.10" stroke-width="2.60" stroke-linecap="round" fill="none"/><path d="M265.40,527.70 Q271.10,526.70 276.80,527.70" stroke="#000" stroke-opacity="0.35" stroke-width="2.60" stroke-linecap="round" fill="none"/><path d="M284.93,526.40 Q290.20,525.40 295.47,526.40" stroke="#000" stroke-opacity="1.00" stroke-width="4.16" stroke-linecap="round" fill="none"/></g>
<text x="102.80" y="532.80" font-size="10.8" text-anchor="end" fill="#000" font-weight="bold" >p-TBK1</text>
<rect x="109.30" y="540.90" width="190.70" height="18.90" fill="#d3d3d3"/>
<rect x="109.30" y="540.90" width="190.70" height="18.90" fill="#000" filter="url(#noise)" opacity="0.22"/>
<g filter="url(#bl7)"><path d="M114.35,550.10 Q120.50,549.10 126.65,550.10" stroke="#000" stroke-opacity="0.97" stroke-width="3.20" stroke-linecap="round" fill="none"/><path d="M133.35,550.10 Q139.50,549.10 145.65,550.10" stroke="#000" stroke-opacity="0.97" stroke-width="3.20" stroke-linecap="round" fill="none"/><path d="M152.15,550.10 Q158.30,549.10 164.45,550.10" stroke="#000" stroke-opacity="0.97" stroke-width="3.20" stroke-linecap="round" fill="none"/><path d="M170.75,550.10 Q176.90,549.10 183.05,550.10" stroke="#000" stroke-opacity="0.97" stroke-width="3.20" stroke-linecap="round" fill="none"/><path d="M189.35,550.10 Q195.50,549.10 201.65,550.10" stroke="#000" stroke-opacity="0.97" stroke-width="3.20" stroke-linecap="round" fill="none"/><path d="M209.05,550.10 Q215.20,549.10 221.35,550.10" stroke="#000" stroke-opacity="0.97" stroke-width="3.20" stroke-linecap="round" fill="none"/><path d="M227.35,550.10 Q233.50,549.10 239.65,550.10" stroke="#000" stroke-opacity="0.97" stroke-width="3.20" stroke-linecap="round" fill="none"/><path d="M245.95,550.10 Q252.10,549.10 258.25,550.10" stroke="#000" stroke-opacity="0.97" stroke-width="3.20" stroke-linecap="round" fill="none"/><path d="M264.95,550.10 Q271.10,549.10 277.25,550.10" stroke="#000" stroke-opacity="0.97" stroke-width="3.20" stroke-linecap="round" fill="none"/><path d="M284.05,550.10 Q290.20,549.10 296.35,550.10" stroke="#000" stroke-opacity="0.97" stroke-width="3.20" stroke-linecap="round" fill="none"/></g>
<text x="102.80" y="554.10" font-size="10.8" text-anchor="end" fill="#000" font-weight="bold" >TBK1</text>
<rect x="109.30" y="564.80" width="190.70" height="18.50" fill="#cfcfcf"/>
<rect x="109.30" y="564.80" width="190.70" height="18.50" fill="#000" filter="url(#noise)" opacity="0.22"/>
<g filter="url(#bl7)"><path d="M115.10,573.10 Q120.50,572.10 125.90,573.10" stroke="#000" stroke-opacity="0.15" stroke-width="3.20" stroke-linecap="round" fill="none"/><path d="M134.10,573.10 Q139.50,572.10 144.90,573.10" stroke="#000" stroke-opacity="0.15" stroke-width="3.20" stroke-linecap="round" fill="none"/><path d="M152.90,573.10 Q158.30,572.10 163.70,573.10" stroke="#000" stroke-opacity="0.18" stroke-width="3.20" stroke-linecap="round" fill="none"/><path d="M171.50,573.10 Q176.90,572.10 182.30,573.10" stroke="#000" stroke-opacity="0.20" stroke-width="3.20" stroke-linecap="round" fill="none"/><path d="M190.10,573.10 Q195.50,572.10 200.90,573.10" stroke="#000" stroke-opacity="0.45" stroke-width="3.20" stroke-linecap="round" fill="none"/><path d="M209.80,573.10 Q215.20,572.10 220.60,573.10" stroke="#000" stroke-opacity="0.12" stroke-width="3.20" stroke-linecap="round" fill="none"/><path d="M228.10,573.10 Q233.50,572.10 238.90,573.10" stroke="#000" stroke-opacity="0.15" stroke-width="3.20" stroke-linecap="round" fill="none"/><path d="M246.70,573.10 Q252.10,572.10 257.50,573.10" stroke="#000" stroke-opacity="0.10" stroke-width="3.20" stroke-linecap="round" fill="none"/><path d="M265.70,573.10 Q271.10,572.10 276.50,573.10" stroke="#000" stroke-opacity="0.50" stroke-width="3.20" stroke-linecap="round" fill="none"/><path d="M285.57,572.60 Q290.20,571.60 294.83,572.60" stroke="#000" stroke-opacity="1.00" stroke-width="5.44" stroke-linecap="round" fill="none"/></g>
<text x="102.80" y="578.80" font-size="10.8" text-anchor="end" fill="#000" font-weight="bold" >p-IRF3</text>
<rect x="109.30" y="588.80" width="190.70" height="17.00" fill="#cbcbcb"/>
<rect x="109.30" y="588.80" width="190.70" height="17.00" fill="#000" filter="url(#noise)" opacity="0.22"/>
<g filter="url(#bl7)"><path d="M114.65,597.70 Q120.50,596.70 126.35,597.70" stroke="#000" stroke-opacity="1.00" stroke-width="3.80" stroke-linecap="round" fill="none"/><path d="M133.65,597.70 Q139.50,596.70 145.35,597.70" stroke="#000" stroke-opacity="1.00" stroke-width="3.80" stroke-linecap="round" fill="none"/><path d="M152.45,597.70 Q158.30,596.70 164.15,597.70" stroke="#000" stroke-opacity="1.00" stroke-width="3.80" stroke-linecap="round" fill="none"/><path d="M171.05,597.70 Q176.90,596.70 182.75,597.70" stroke="#000" stroke-opacity="1.00" stroke-width="3.80" stroke-linecap="round" fill="none"/><path d="M189.65,597.70 Q195.50,596.70 201.35,597.70" stroke="#000" stroke-opacity="1.00" stroke-width="3.80" stroke-linecap="round" fill="none"/><path d="M209.35,597.70 Q215.20,596.70 221.05,597.70" stroke="#000" stroke-opacity="1.00" stroke-width="3.80" stroke-linecap="round" fill="none"/><path d="M227.65,597.70 Q233.50,596.70 239.35,597.70" stroke="#000" stroke-opacity="1.00" stroke-width="3.80" stroke-linecap="round" fill="none"/><path d="M246.25,597.70 Q252.10,596.70 257.95,597.70" stroke="#000" stroke-opacity="1.00" stroke-width="3.80" stroke-linecap="round" fill="none"/><path d="M265.25,597.70 Q271.10,596.70 276.95,597.70" stroke="#000" stroke-opacity="1.00" stroke-width="3.80" stroke-linecap="round" fill="none"/><path d="M284.35,597.70 Q290.20,596.70 296.05,597.70" stroke="#000" stroke-opacity="1.00" stroke-width="3.80" stroke-linecap="round" fill="none"/><path d="M114.10,600.80 Q120.50,600.40 126.90,600.80" stroke="#000" stroke-opacity="0.15" stroke-width="2.20" stroke-linecap="round" fill="none"/><path d="M133.10,600.80 Q139.50,600.40 145.90,600.80" stroke="#000" stroke-opacity="0.15" stroke-width="2.20" stroke-linecap="round" fill="none"/><path d="M151.90,600.80 Q158.30,600.40 164.70,600.80" stroke="#000" stroke-opacity="0.35" stroke-width="2.20" stroke-linecap="round" fill="none"/><path d="M170.50,600.80 Q176.90,600.40 183.30,600.80" stroke="#000" stroke-opacity="0.35" stroke-width="2.20" stroke-linecap="round" fill="none"/><path d="M189.10,600.80 Q195.50,600.40 201.90,600.80" stroke="#000" stroke-opacity="0.20" stroke-width="2.20" stroke-linecap="round" fill="none"/><path d="M208.80,600.80 Q215.20,600.40 221.60,600.80" stroke="#000" stroke-opacity="0.15" stroke-width="2.20" stroke-linecap="round" fill="none"/><path d="M227.10,600.80 Q233.50,600.40 239.90,600.80" stroke="#000" stroke-opacity="0.15" stroke-width="2.20" stroke-linecap="round" fill="none"/><path d="M245.70,600.80 Q252.10,600.40 258.50,600.80" stroke="#000" stroke-opacity="0.15" stroke-width="2.20" stroke-linecap="round" fill="none"/><path d="M264.70,600.80 Q271.10,600.40 277.50,600.80" stroke="#000" stroke-opacity="0.20" stroke-width="2.20" stroke-linecap="round" fill="none"/><path d="M283.80,600.80 Q290.20,600.40 296.60,600.80" stroke="#000" stroke-opacity="0.20" stroke-width="2.20" stroke-linecap="round" fill="none"/></g>
<text x="102.80" y="601.60" font-size="10.8" text-anchor="end" fill="#000" font-weight="bold" >IRF3</text>
<rect x="109.30" y="610.60" width="190.70" height="16.90" fill="#d9d9d9"/>
<rect x="109.30" y="610.60" width="190.70" height="16.90" fill="#000" filter="url(#noise)" opacity="0.22"/>
<g filter="url(#bl7)"><path d="M152.45,619.50 Q158.30,618.50 164.15,619.50" stroke="#000" stroke-opacity="0.30" stroke-width="2.80" stroke-linecap="round" fill="none"/><path d="M171.05,619.50 Q176.90,618.50 182.75,619.50" stroke="#000" stroke-opacity="0.50" stroke-width="2.80" stroke-linecap="round" fill="none"/><path d="M189.65,619.50 Q195.50,618.50 201.35,619.50" stroke="#000" stroke-opacity="0.90" stroke-width="2.80" stroke-linecap="round" fill="none"/><path d="M227.65,619.50 Q233.50,618.50 239.35,619.50" stroke="#000" stroke-opacity="0.25" stroke-width="2.80" stroke-linecap="round" fill="none"/><path d="M246.25,619.50 Q252.10,618.50 257.95,619.50" stroke="#000" stroke-opacity="0.60" stroke-width="2.80" stroke-linecap="round" fill="none"/><path d="M265.25,619.50 Q271.10,618.50 276.95,619.50" stroke="#000" stroke-opacity="0.85" stroke-width="2.80" stroke-linecap="round" fill="none"/><path d="M284.77,619.50 Q290.20,618.50 295.63,619.50" stroke="#000" stroke-opacity="1.00" stroke-width="3.64" stroke-linecap="round" fill="none"/></g>
<text x="102.80" y="624.80" font-size="10.8" text-anchor="end" fill="#000" font-weight="bold" >p-P65</text>
<rect x="109.30" y="632.80" width="190.70" height="17.80" fill="#cfcfcf"/>
<rect x="109.30" y="632.80" width="190.70" height="17.80" fill="#000" filter="url(#noise)" opacity="0.22"/>
<g filter="url(#bl7)"><path d="M114.60,642.80 Q120.50,641.80 126.40,642.80" stroke="#000" stroke-opacity="1.00" stroke-width="4.20" stroke-linecap="round" fill="none"/><path d="M133.60,642.80 Q139.50,641.80 145.40,642.80" stroke="#000" stroke-opacity="1.00" stroke-width="4.20" stroke-linecap="round" fill="none"/><path d="M152.40,642.80 Q158.30,641.80 164.20,642.80" stroke="#000" stroke-opacity="1.00" stroke-width="4.20" stroke-linecap="round" fill="none"/><path d="M171.00,642.80 Q176.90,641.80 182.80,642.80" stroke="#000" stroke-opacity="1.00" stroke-width="4.20" stroke-linecap="round" fill="none"/><path d="M189.60,642.80 Q195.50,641.80 201.40,642.80" stroke="#000" stroke-opacity="1.00" stroke-width="4.20" stroke-linecap="round" fill="none"/><path d="M209.30,642.80 Q215.20,641.80 221.10,642.80" stroke="#000" stroke-opacity="1.00" stroke-width="4.20" stroke-linecap="round" fill="none"/><path d="M227.60,642.80 Q233.50,641.80 239.40,642.80" stroke="#000" stroke-opacity="1.00" stroke-width="4.20" stroke-linecap="round" fill="none"/><path d="M246.20,642.80 Q252.10,641.80 258.00,642.80" stroke="#000" stroke-opacity="1.00" stroke-width="4.20" stroke-linecap="round" fill="none"/><path d="M265.20,642.80 Q271.10,641.80 277.00,642.80" stroke="#000" stroke-opacity="1.00" stroke-width="4.20" stroke-linecap="round" fill="none"/><path d="M284.30,642.80 Q290.20,641.80 296.10,642.80" stroke="#000" stroke-opacity="1.00" stroke-width="4.20" stroke-linecap="round" fill="none"/></g>
<text x="102.80" y="646.50" font-size="10.8" text-anchor="end" fill="#000" font-weight="bold" >P65</text>
<rect x="109.30" y="658.20" width="190.70" height="18.60" fill="#c2c2c2"/>
<rect x="109.30" y="658.20" width="190.70" height="18.60" fill="#000" filter="url(#noise)" opacity="0.22"/>
<g filter="url(#bl7)"><path d="M114.20,667.70 Q120.50,666.70 126.80,667.70" stroke="#000" stroke-opacity="1.00" stroke-width="6.00" stroke-linecap="round" fill="none"/><path d="M133.20,667.70 Q139.50,666.70 145.80,667.70" stroke="#000" stroke-opacity="1.00" stroke-width="6.00" stroke-linecap="round" fill="none"/><path d="M152.00,667.70 Q158.30,666.70 164.60,667.70" stroke="#000" stroke-opacity="1.00" stroke-width="6.00" stroke-linecap="round" fill="none"/><path d="M170.60,667.70 Q176.90,666.70 183.20,667.70" stroke="#000" stroke-opacity="1.00" stroke-width="6.00" stroke-linecap="round" fill="none"/><path d="M189.20,667.70 Q195.50,666.70 201.80,667.70" stroke="#000" stroke-opacity="1.00" stroke-width="6.00" stroke-linecap="round" fill="none"/><path d="M208.90,667.70 Q215.20,666.70 221.50,667.70" stroke="#000" stroke-opacity="1.00" stroke-width="6.00" stroke-linecap="round" fill="none"/><path d="M227.20,667.70 Q233.50,666.70 239.80,667.70" stroke="#000" stroke-opacity="1.00" stroke-width="6.00" stroke-linecap="round" fill="none"/><path d="M245.80,667.70 Q252.10,666.70 258.40,667.70" stroke="#000" stroke-opacity="1.00" stroke-width="6.00" stroke-linecap="round" fill="none"/><path d="M264.80,667.70 Q271.10,666.70 277.40,667.70" stroke="#000" stroke-opacity="1.00" stroke-width="6.00" stroke-linecap="round" fill="none"/><path d="M283.90,667.70 Q290.20,666.70 296.50,667.70" stroke="#000" stroke-opacity="1.00" stroke-width="6.00" stroke-linecap="round" fill="none"/></g>
<text x="102.80" y="670.50" font-size="10.8" text-anchor="end" fill="#000" font-weight="bold" >β-actin</text>
<line x1="302.60" y1="480.40" x2="310.40" y2="480.40" stroke="#000" stroke-width="1.6" />
<text x="312.60" y="484.18" font-size="10.5" text-anchor="start" fill="#000" font-weight="bold" >100</text>
<line x1="302.60" y1="497.10" x2="310.40" y2="497.10" stroke="#000" stroke-width="1.6" />
<text x="312.60" y="500.88" font-size="10.5" text-anchor="start" fill="#000" font-weight="bold" >130</text>
<line x1="302.60" y1="509.30" x2="310.40" y2="509.30" stroke="#000" stroke-width="1.6" />
<text x="312.60" y="513.08" font-size="10.5" text-anchor="start" fill="#000" font-weight="bold" >100</text>
<line x1="302.60" y1="528.30" x2="310.40" y2="528.30" stroke="#000" stroke-width="1.6" />
<text x="314.60" y="532.08" font-size="10.5" text-anchor="start" fill="#000" font-weight="bold" >70</text>
<line x1="302.60" y1="556.10" x2="310.40" y2="556.10" stroke="#000" stroke-width="1.6" />
<text x="314.60" y="559.88" font-size="10.5" text-anchor="start" fill="#000" font-weight="bold" >70</text>
<line x1="302.60" y1="571.50" x2="310.40" y2="571.50" stroke="#000" stroke-width="1.6" />
<text x="314.60" y="575.28" font-size="10.5" text-anchor="start" fill="#000" font-weight="bold" >55</text>
<line x1="302.60" y1="598.00" x2="310.40" y2="598.00" stroke="#000" stroke-width="1.6" />
<text x="314.60" y="601.78" font-size="10.5" text-anchor="start" fill="#000" font-weight="bold" >55</text>
<line x1="302.60" y1="619.70" x2="310.40" y2="619.70" stroke="#000" stroke-width="1.6" />
<text x="314.60" y="623.48" font-size="10.5" text-anchor="start" fill="#000" font-weight="bold" >65</text>
<line x1="302.60" y1="642.30" x2="310.40" y2="642.30" stroke="#000" stroke-width="1.6" />
<text x="314.60" y="646.08" font-size="10.5" text-anchor="start" fill="#000" font-weight="bold" >65</text>
<line x1="302.60" y1="675.00" x2="310.40" y2="675.00" stroke="#000" stroke-width="1.6" />
<text x="314.60" y="678.78" font-size="10.5" text-anchor="start" fill="#000" font-weight="bold" >40</text>
<text x="331.60" y="484.20" font-size="10.5" text-anchor="start" fill="#000" font-weight="bold" >(kDa)</text>
<text x="359.60" y="442.60" font-size="23.5" text-anchor="start" fill="#000" font-weight="bold" >H</text>
<text x="449.70" y="441.60" font-size="11.4" text-anchor="middle" fill="#000" font-weight="bold" >IFI16(+/+)</text>
<line x1="414.60" y1="445.80" x2="488.00" y2="445.80" stroke="#000" stroke-width="1.5" />
<text x="578.60" y="427.40" font-size="11.2" text-anchor="middle" fill="#000" font-weight="bold" >IFI16(-/-)</text>
<line x1="495.60" y1="431.20" x2="651.50" y2="431.20" stroke="#000" stroke-width="1.5" />
<text x="533.00" y="443.40" font-size="11" text-anchor="middle" fill="#000" font-weight="bold" >Flag</text>
<line x1="495.60" y1="446.40" x2="568.40" y2="446.40" stroke="#000" stroke-width="1.5" />
<text x="614.90" y="443.40" font-size="11" text-anchor="middle" fill="#000" font-weight="bold" >IFI16-flag</text>
<line x1="574.90" y1="446.40" x2="648.30" y2="446.40" stroke="#000" stroke-width="1.5" />
<text x="421.60" y="457.30" font-size="11.5" text-anchor="middle" fill="#000" font-weight="bold" >0</text>
<text x="440.60" y="457.30" font-size="11.5" text-anchor="middle" fill="#000" font-weight="bold" >4</text>
<text x="459.80" y="457.30" font-size="11.5" text-anchor="middle" fill="#000" font-weight="bold" >8</text>
<text x="479.20" y="457.30" font-size="11.5" text-anchor="middle" fill="#000" font-weight="bold" >12</text>
<text x="501.30" y="457.30" font-size="11.5" text-anchor="middle" fill="#b23fd0" font-weight="bold" >0</text>
<text x="520.60" y="457.30" font-size="11.5" text-anchor="middle" fill="#b23fd0" font-weight="bold" >4</text>
<text x="539.60" y="457.30" font-size="11.5" text-anchor="middle" fill="#b23fd0" font-weight="bold" >8</text>
<text x="559.00" y="457.30" font-size="11.5" text-anchor="middle" fill="#b23fd0" font-weight="bold" >12</text>
<text x="580.80" y="457.30" font-size="11.5" text-anchor="middle" fill="#3aa4dc" font-weight="bold" >0</text>
<text x="600.20" y="457.30" font-size="11.5" text-anchor="middle" fill="#3aa4dc" font-weight="bold" >4</text>
<text x="619.80" y="457.30" font-size="11.5" text-anchor="middle" fill="#3aa4dc" font-weight="bold" >8</text>
<text x="639.30" y="457.30" font-size="11.5" text-anchor="middle" fill="#3aa4dc" font-weight="bold" >12</text>
<text x="652.80" y="457.00" font-size="11" text-anchor="start" fill="#000" font-weight="bold" >(hpi)</text>
<rect x="413.30" y="461.60" width="81.50" height="18.80" fill="#bababa"/>
<rect x="494.80" y="461.60" width="74.70" height="18.80" fill="#e9e9e9"/>
<rect x="569.50" y="461.60" width="82.50" height="18.80" fill="#cfcfcf"/>
<rect x="413.30" y="461.60" width="238.70" height="18.80" fill="#000" filter="url(#noise)" opacity="0.22"/>
<g filter="url(#bl7)"><path d="M416.65,471.30 Q423.30,470.30 429.95,471.30" stroke="#000" stroke-opacity="0.75" stroke-width="2.70" stroke-linecap="round" fill="none"/><path d="M436.65,471.30 Q443.30,470.30 449.95,471.30" stroke="#000" stroke-opacity="0.85" stroke-width="2.70" stroke-linecap="round" fill="none"/><path d="M456.65,471.30 Q463.30,470.30 469.95,471.30" stroke="#000" stroke-opacity="0.85" stroke-width="2.70" stroke-linecap="round" fill="none"/><path d="M476.52,471.30 Q483.30,470.30 490.08,471.30" stroke="#000" stroke-opacity="1.00" stroke-width="4.05" stroke-linecap="round" fill="none"/><path d="M574.56,471.70 Q580.80,470.70 587.04,471.70" stroke="#000" stroke-opacity="1.00" stroke-width="4.32" stroke-linecap="round" fill="none"/><path d="M594.16,471.70 Q600.60,470.70 607.04,471.70" stroke="#000" stroke-opacity="1.00" stroke-width="3.92" stroke-linecap="round" fill="none"/><path d="M613.35,471.70 Q620.00,470.70 626.65,471.70" stroke="#000" stroke-opacity="0.85" stroke-width="2.70" stroke-linecap="round" fill="none"/><path d="M633.36,471.70 Q640.00,470.70 646.64,471.70" stroke="#000" stroke-opacity="0.95" stroke-width="3.51" stroke-linecap="round" fill="none"/><path d="M416.80,475.00 Q423.30,474.60 429.80,475.00" stroke="#000" stroke-opacity="0.30" stroke-width="2.00" stroke-linecap="round" fill="none"/><path d="M436.80,475.00 Q443.30,474.60 449.80,475.00" stroke="#000" stroke-opacity="0.35" stroke-width="2.00" stroke-linecap="round" fill="none"/><path d="M456.80,475.00 Q463.30,474.60 469.80,475.00" stroke="#000" stroke-opacity="0.35" stroke-width="2.00" stroke-linecap="round" fill="none"/><path d="M476.80,475.00 Q483.30,474.60 489.80,475.00" stroke="#000" stroke-opacity="0.45" stroke-width="2.00" stroke-linecap="round" fill="none"/></g>
<text x="407.60" y="476.10" font-size="11.1" text-anchor="end" fill="#000" font-weight="bold" >IFI16</text>
<rect x="413.30" y="486.00" width="81.50" height="19.40" fill="#bcbcbc"/>
<rect x="494.80" y="486.00" width="74.70" height="19.40" fill="#b8b8b8"/>
<rect x="569.50" y="486.00" width="82.50" height="19.40" fill="#c7c7c7"/>
<linearGradient id="gr110" x1="0" y1="0" x2="0" y2="1"><stop offset="0" stop-color="#fff" stop-opacity="0.25"/><stop offset="0.5" stop-color="#fff" stop-opacity="0"/><stop offset="1" stop-color="#000" stop-opacity="0.1"/></linearGradient>
<rect x="413.30" y="486.00" width="238.70" height="19.40" fill="url(#gr110)"/>
<rect x="413.30" y="486.00" width="238.70" height="19.40" fill="#000" filter="url(#noise)" opacity="0.22"/>
<g filter="url(#bl7)"><path d="M417.05,503.10 Q423.30,502.10 429.55,503.10" stroke="#000" stroke-opacity="0.50" stroke-width="3.00" stroke-linecap="round" fill="none"/><path d="M437.05,503.10 Q443.30,502.10 449.55,503.10" stroke="#000" stroke-opacity="0.55" stroke-width="3.00" stroke-linecap="round" fill="none"/><path d="M457.05,503.10 Q463.30,502.10 469.55,503.10" stroke="#000" stroke-opacity="0.75" stroke-width="3.00" stroke-linecap="round" fill="none"/><path d="M477.05,503.10 Q483.30,502.10 489.55,503.10" stroke="#000" stroke-opacity="0.90" stroke-width="3.00" stroke-linecap="round" fill="none"/><path d="M497.95,503.10 Q504.20,502.10 510.45,503.10" stroke="#000" stroke-opacity="0.80" stroke-width="3.00" stroke-linecap="round" fill="none"/><path d="M516.95,503.10 Q523.20,502.10 529.45,503.10" stroke="#000" stroke-opacity="0.65" stroke-width="3.00" stroke-linecap="round" fill="none"/><path d="M536.25,503.10 Q542.50,502.10 548.75,503.10" stroke="#000" stroke-opacity="0.60" stroke-width="3.00" stroke-linecap="round" fill="none"/><path d="M555.25,503.10 Q561.50,502.10 567.75,503.10" stroke="#000" stroke-opacity="0.35" stroke-width="3.00" stroke-linecap="round" fill="none"/><path d="M574.55,503.10 Q580.80,502.10 587.05,503.10" stroke="#000" stroke-opacity="0.80" stroke-width="3.00" stroke-linecap="round" fill="none"/><path d="M594.35,503.10 Q600.60,502.10 606.85,503.10" stroke="#000" stroke-opacity="0.80" stroke-width="3.00" stroke-linecap="round" fill="none"/><path d="M613.75,503.10 Q620.00,502.10 626.25,503.10" stroke="#000" stroke-opacity="0.40" stroke-width="3.00" stroke-linecap="round" fill="none"/><path d="M633.75,503.10 Q640.00,502.10 646.25,503.10" stroke="#000" stroke-opacity="0.20" stroke-width="3.00" stroke-linecap="round" fill="none"/><path d="M416.85,497.50 Q423.30,497.10 429.75,497.50" stroke="#000" stroke-opacity="0.50" stroke-width="2.60" stroke-linecap="round" fill="none"/><path d="M436.85,497.50 Q443.30,497.10 449.75,497.50" stroke="#000" stroke-opacity="0.60" stroke-width="2.60" stroke-linecap="round" fill="none"/><path d="M456.85,497.50 Q463.30,497.10 469.75,497.50" stroke="#000" stroke-opacity="0.75" stroke-width="2.60" stroke-linecap="round" fill="none"/><path d="M476.85,497.50 Q483.30,497.10 489.75,497.50" stroke="#000" stroke-opacity="0.90" stroke-width="2.60" stroke-linecap="round" fill="none"/><path d="M497.75,497.50 Q504.20,497.10 510.65,497.50" stroke="#000" stroke-opacity="0.20" stroke-width="2.60" stroke-linecap="round" fill="none"/><path d="M516.75,497.50 Q523.20,497.10 529.65,497.50" stroke="#000" stroke-opacity="0.15" stroke-width="2.60" stroke-linecap="round" fill="none"/><path d="M536.05,497.50 Q542.50,497.10 548.95,497.50" stroke="#000" stroke-opacity="0.15" stroke-width="2.60" stroke-linecap="round" fill="none"/><path d="M555.05,497.50 Q561.50,497.10 567.95,497.50" stroke="#000" stroke-opacity="0.10" stroke-width="2.60" stroke-linecap="round" fill="none"/><path d="M574.35,497.50 Q580.80,497.10 587.25,497.50" stroke="#000" stroke-opacity="0.90" stroke-width="2.60" stroke-linecap="round" fill="none"/><path d="M594.15,497.50 Q600.60,497.10 607.05,497.50" stroke="#000" stroke-opacity="0.90" stroke-width="2.60" stroke-linecap="round" fill="none"/><path d="M613.55,497.50 Q620.00,497.10 626.45,497.50" stroke="#000" stroke-opacity="0.30" stroke-width="2.60" stroke-linecap="round" fill="none"/><path d="M633.55,497.50 Q640.00,497.10 646.45,497.50" stroke="#000" stroke-opacity="0.12" stroke-width="2.60" stroke-linecap="round" fill="none"/></g>
<text x="407.60" y="498.90" font-size="11.1" text-anchor="end" fill="#000" font-weight="bold" >RIG-I</text>
<rect x="413.30" y="510.40" width="238.70" height="19.60" fill="#d5d5d5"/>
<rect x="413.30" y="510.40" width="238.70" height="19.60" fill="#000" filter="url(#noise)" opacity="0.22"/>
<g filter="url(#bl7)"><path d="M417.45,522.30 Q423.30,521.30 429.15,522.30" stroke="#000" stroke-opacity="0.15" stroke-width="2.30" stroke-linecap="round" fill="none"/><path d="M437.45,522.30 Q443.30,521.30 449.15,522.30" stroke="#000" stroke-opacity="0.20" stroke-width="2.30" stroke-linecap="round" fill="none"/><path d="M457.45,522.30 Q463.30,521.30 469.15,522.30" stroke="#000" stroke-opacity="0.75" stroke-width="2.30" stroke-linecap="round" fill="none"/><path d="M477.45,522.30 Q483.30,521.30 489.15,522.30" stroke="#000" stroke-opacity="1.00" stroke-width="2.30" stroke-linecap="round" fill="none"/><path d="M555.65,522.30 Q561.50,521.30 567.35,522.30" stroke="#000" stroke-opacity="0.08" stroke-width="2.30" stroke-linecap="round" fill="none"/><path d="M574.95,522.30 Q580.80,521.30 586.65,522.30" stroke="#000" stroke-opacity="0.10" stroke-width="2.30" stroke-linecap="round" fill="none"/><path d="M594.75,522.30 Q600.60,521.30 606.45,522.30" stroke="#000" stroke-opacity="0.40" stroke-width="2.30" stroke-linecap="round" fill="none"/><path d="M614.15,522.30 Q620.00,521.30 625.85,522.30" stroke="#000" stroke-opacity="0.35" stroke-width="2.30" stroke-linecap="round" fill="none"/><path d="M634.15,522.30 Q640.00,521.30 645.85,522.30" stroke="#000" stroke-opacity="0.18" stroke-width="2.30" stroke-linecap="round" fill="none"/></g>
<text x="407.60" y="522.90" font-size="11.1" text-anchor="end" fill="#000" font-weight="bold" >p-TBK1</text>
<rect x="413.30" y="535.40" width="238.70" height="19.40" fill="#d5d5d5"/>
<linearGradient id="gr120" x1="0" y1="0" x2="0" y2="1"><stop offset="0" stop-color="#fff" stop-opacity="0.25"/><stop offset="0.5" stop-color="#fff" stop-opacity="0"/><stop offset="1" stop-color="#000" stop-opacity="0.1"/></linearGradient>
<rect x="413.30" y="535.40" width="238.70" height="19.40" fill="url(#gr120)"/>
<rect x="413.30" y="535.40" width="238.70" height="19.40" fill="#000" filter="url(#noise)" opacity="0.22"/>
<g filter="url(#bl7)"><path d="M416.65,546.10 Q423.30,545.10 429.95,546.10" stroke="#000" stroke-opacity="0.97" stroke-width="3.20" stroke-linecap="round" fill="none"/><path d="M436.65,546.10 Q443.30,545.10 449.95,546.10" stroke="#000" stroke-opacity="0.97" stroke-width="3.20" stroke-linecap="round" fill="none"/><path d="M456.65,546.10 Q463.30,545.10 469.95,546.10" stroke="#000" stroke-opacity="0.97" stroke-width="3.20" stroke-linecap="round" fill="none"/><path d="M476.65,546.10 Q483.30,545.10 489.95,546.10" stroke="#000" stroke-opacity="0.97" stroke-width="3.20" stroke-linecap="round" fill="none"/><path d="M497.55,545.10 Q504.20,544.10 510.85,545.10" stroke="#000" stroke-opacity="0.97" stroke-width="3.20" stroke-linecap="round" fill="none"/><path d="M516.55,545.10 Q523.20,544.10 529.85,545.10" stroke="#000" stroke-opacity="0.97" stroke-width="3.20" stroke-linecap="round" fill="none"/><path d="M535.85,545.10 Q542.50,544.10 549.15,545.10" stroke="#000" stroke-opacity="0.97" stroke-width="3.20" stroke-linecap="round" fill="none"/><path d="M554.85,545.10 Q561.50,544.10 568.15,545.10" stroke="#000" stroke-opacity="0.97" stroke-width="3.20" stroke-linecap="round" fill="none"/><path d="M574.40,544.50 Q580.80,543.50 587.20,544.50" stroke="#000" stroke-opacity="0.80" stroke-width="2.88" stroke-linecap="round" fill="none"/><path d="M593.95,544.50 Q600.60,543.50 607.25,544.50" stroke="#000" stroke-opacity="0.97" stroke-width="3.20" stroke-linecap="round" fill="none"/><path d="M613.35,544.50 Q620.00,543.50 626.65,544.50" stroke="#000" stroke-opacity="0.97" stroke-width="3.20" stroke-linecap="round" fill="none"/><path d="M633.35,544.50 Q640.00,543.50 646.65,544.50" stroke="#000" stroke-opacity="0.97" stroke-width="3.20" stroke-linecap="round" fill="none"/></g>
<text x="407.60" y="549.70" font-size="11.1" text-anchor="end" fill="#000" font-weight="bold" >TBK1</text>
<rect x="413.30" y="561.00" width="238.70" height="19.20" fill="#d5d5d5"/>
<linearGradient id="gr126" x1="0" y1="0" x2="0" y2="1"><stop offset="0" stop-color="#fff" stop-opacity="0.25"/><stop offset="0.5" stop-color="#fff" stop-opacity="0"/><stop offset="1" stop-color="#000" stop-opacity="0.1"/></linearGradient>
<rect x="413.30" y="561.00" width="238.70" height="19.20" fill="url(#gr126)"/>
<rect x="413.30" y="561.00" width="238.70" height="19.20" fill="#000" filter="url(#noise)" opacity="0.22"/>
<g filter="url(#bl7)"><path d="M417.17,573.50 Q423.30,572.50 429.43,573.50" stroke="#000" stroke-opacity="1.00" stroke-width="3.74" stroke-linecap="round" fill="none"/><path d="M436.92,573.50 Q443.30,572.50 449.69,573.50" stroke="#000" stroke-opacity="0.95" stroke-width="3.23" stroke-linecap="round" fill="none"/><path d="M457.62,573.50 Q463.30,572.50 468.98,573.50" stroke="#000" stroke-opacity="1.00" stroke-width="5.44" stroke-linecap="round" fill="none"/><path d="M477.39,573.50 Q483.30,572.50 489.21,573.50" stroke="#000" stroke-opacity="1.00" stroke-width="5.78" stroke-linecap="round" fill="none"/><path d="M497.90,573.50 Q504.20,572.50 510.50,573.50" stroke="#000" stroke-opacity="1.00" stroke-width="3.40" stroke-linecap="round" fill="none"/><path d="M516.90,573.50 Q523.20,572.50 529.50,573.50" stroke="#000" stroke-opacity="1.00" stroke-width="3.40" stroke-linecap="round" fill="none"/><path d="M536.20,573.50 Q542.50,572.50 548.80,573.50" stroke="#000" stroke-opacity="0.85" stroke-width="3.40" stroke-linecap="round" fill="none"/><path d="M555.20,573.50 Q561.50,572.50 567.80,573.50" stroke="#000" stroke-opacity="0.80" stroke-width="3.40" stroke-linecap="round" fill="none"/><path d="M574.50,573.50 Q580.80,572.50 587.10,573.50" stroke="#000" stroke-opacity="0.90" stroke-width="3.40" stroke-linecap="round" fill="none"/><path d="M594.30,573.50 Q600.60,572.50 606.90,573.50" stroke="#000" stroke-opacity="0.80" stroke-width="3.40" stroke-linecap="round" fill="none"/><path d="M613.70,573.50 Q620.00,572.50 626.30,573.50" stroke="#000" stroke-opacity="0.75" stroke-width="3.40" stroke-linecap="round" fill="none"/><path d="M634.38,573.50 Q640.00,572.50 645.62,573.50" stroke="#000" stroke-opacity="1.00" stroke-width="4.76" stroke-linecap="round" fill="none"/></g>
<text x="407.60" y="575.80" font-size="11.1" text-anchor="end" fill="#000" font-weight="bold" >p-p65</text>
<rect x="413.30" y="585.80" width="238.70" height="18.70" fill="#d5d5d5"/>
<linearGradient id="gr132" x1="0" y1="0" x2="0" y2="1"><stop offset="0" stop-color="#fff" stop-opacity="0.25"/><stop offset="0.5" stop-color="#fff" stop-opacity="0"/><stop offset="1" stop-color="#000" stop-opacity="0.1"/></linearGradient>
<rect x="413.30" y="585.80" width="238.70" height="18.70" fill="url(#gr132)"/>
<rect x="413.30" y="585.80" width="238.70" height="18.70" fill="#000" filter="url(#noise)" opacity="0.22"/>
<g filter="url(#bl7)"><path d="M417.75,597.50 Q423.30,596.50 428.85,597.50" stroke="#000" stroke-opacity="1.00" stroke-width="6.40" stroke-linecap="round" fill="none"/><path d="M437.75,597.50 Q443.30,596.50 448.85,597.50" stroke="#000" stroke-opacity="1.00" stroke-width="6.40" stroke-linecap="round" fill="none"/><path d="M457.75,597.50 Q463.30,596.50 468.85,597.50" stroke="#000" stroke-opacity="1.00" stroke-width="6.40" stroke-linecap="round" fill="none"/><path d="M477.75,597.50 Q483.30,596.50 488.85,597.50" stroke="#000" stroke-opacity="1.00" stroke-width="6.40" stroke-linecap="round" fill="none"/><path d="M498.65,597.50 Q504.20,596.50 509.75,597.50" stroke="#000" stroke-opacity="1.00" stroke-width="6.40" stroke-linecap="round" fill="none"/><path d="M517.65,597.50 Q523.20,596.50 528.75,597.50" stroke="#000" stroke-opacity="1.00" stroke-width="6.40" stroke-linecap="round" fill="none"/><path d="M536.95,597.50 Q542.50,596.50 548.05,597.50" stroke="#000" stroke-opacity="1.00" stroke-width="6.40" stroke-linecap="round" fill="none"/><path d="M555.95,597.50 Q561.50,596.50 567.05,597.50" stroke="#000" stroke-opacity="1.00" stroke-width="6.40" stroke-linecap="round" fill="none"/><path d="M575.25,597.50 Q580.80,596.50 586.35,597.50" stroke="#000" stroke-opacity="1.00" stroke-width="6.40" stroke-linecap="round" fill="none"/><path d="M595.05,597.50 Q600.60,596.50 606.15,597.50" stroke="#000" stroke-opacity="1.00" stroke-width="6.40" stroke-linecap="round" fill="none"/><path d="M614.45,597.50 Q620.00,596.50 625.55,597.50" stroke="#000" stroke-opacity="1.00" stroke-width="6.40" stroke-linecap="round" fill="none"/><path d="M634.45,597.50 Q640.00,596.50 645.55,597.50" stroke="#000" stroke-opacity="1.00" stroke-width="6.40" stroke-linecap="round" fill="none"/></g>
<text x="407.60" y="599.90" font-size="11.1" text-anchor="end" fill="#000" font-weight="bold" >p65</text>
<rect x="413.30" y="611.00" width="81.50" height="18.20" fill="#a3a3a3"/>
<rect x="494.80" y="611.00" width="74.70" height="18.20" fill="#dbdbdb"/>
<rect x="569.50" y="611.00" width="82.50" height="18.20" fill="#d3d3d3"/>
<rect x="413.30" y="611.00" width="238.70" height="18.20" fill="#000" filter="url(#noise)" opacity="0.22"/>
<g filter="url(#bl7)"><path d="M417.39,615.90 Q423.30,614.90 429.21,615.90" stroke="#000" stroke-opacity="1.00" stroke-width="5.78" stroke-linecap="round" fill="none"/><path d="M437.39,615.90 Q443.30,614.90 449.21,615.90" stroke="#000" stroke-opacity="1.00" stroke-width="5.78" stroke-linecap="round" fill="none"/><path d="M457.39,615.90 Q463.30,614.90 469.21,615.90" stroke="#000" stroke-opacity="1.00" stroke-width="5.78" stroke-linecap="round" fill="none"/><path d="M477.39,615.90 Q483.30,614.90 489.21,615.90" stroke="#000" stroke-opacity="1.00" stroke-width="5.78" stroke-linecap="round" fill="none"/><path d="M497.90,615.90 Q504.20,614.90 510.50,615.90" stroke="#000" stroke-opacity="0.85" stroke-width="3.40" stroke-linecap="round" fill="none"/><path d="M516.90,615.90 Q523.20,614.90 529.50,615.90" stroke="#000" stroke-opacity="0.55" stroke-width="3.40" stroke-linecap="round" fill="none"/><path d="M536.20,615.90 Q542.50,614.90 548.80,615.90" stroke="#000" stroke-opacity="0.55" stroke-width="3.40" stroke-linecap="round" fill="none"/><path d="M555.20,615.90 Q561.50,614.90 567.80,615.90" stroke="#000" stroke-opacity="0.70" stroke-width="3.40" stroke-linecap="round" fill="none"/><path d="M574.50,615.90 Q580.80,614.90 587.10,615.90" stroke="#000" stroke-opacity="0.97" stroke-width="3.40" stroke-linecap="round" fill="none"/><path d="M594.30,615.90 Q600.60,614.90 606.90,615.90" stroke="#000" stroke-opacity="0.95" stroke-width="3.40" stroke-linecap="round" fill="none"/><path d="M613.70,615.90 Q620.00,614.90 626.30,615.90" stroke="#000" stroke-opacity="0.97" stroke-width="3.40" stroke-linecap="round" fill="none"/><path d="M633.70,615.90 Q640.00,614.90 646.30,615.90" stroke="#000" stroke-opacity="0.97" stroke-width="3.40" stroke-linecap="round" fill="none"/></g>
<text x="407.60" y="624.70" font-size="11.1" text-anchor="end" fill="#000" font-weight="bold" >p-IRF3</text>
<rect x="413.30" y="636.20" width="238.70" height="17.70" fill="#cfcfcf"/>
<rect x="413.30" y="636.20" width="238.70" height="17.70" fill="#000" filter="url(#noise)" opacity="0.22"/>
<g filter="url(#bl7)"><path d="M416.65,642.40 Q423.30,641.40 429.95,642.40" stroke="#000" stroke-opacity="1.00" stroke-width="3.20" stroke-linecap="round" fill="none"/><path d="M436.65,642.40 Q443.30,641.40 449.95,642.40" stroke="#000" stroke-opacity="1.00" stroke-width="3.20" stroke-linecap="round" fill="none"/><path d="M456.65,642.40 Q463.30,641.40 469.95,642.40" stroke="#000" stroke-opacity="1.00" stroke-width="3.20" stroke-linecap="round" fill="none"/><path d="M476.65,642.40 Q483.30,641.40 489.95,642.40" stroke="#000" stroke-opacity="1.00" stroke-width="3.20" stroke-linecap="round" fill="none"/><path d="M497.55,642.40 Q504.20,641.40 510.85,642.40" stroke="#000" stroke-opacity="1.00" stroke-width="3.20" stroke-linecap="round" fill="none"/><path d="M516.55,642.40 Q523.20,641.40 529.85,642.40" stroke="#000" stroke-opacity="1.00" stroke-width="3.20" stroke-linecap="round" fill="none"/><path d="M535.85,642.40 Q542.50,641.40 549.15,642.40" stroke="#000" stroke-opacity="1.00" stroke-width="3.20" stroke-linecap="round" fill="none"/><path d="M554.85,642.40 Q561.50,641.40 568.15,642.40" stroke="#000" stroke-opacity="1.00" stroke-width="3.20" stroke-linecap="round" fill="none"/><path d="M574.15,642.40 Q580.80,641.40 587.45,642.40" stroke="#000" stroke-opacity="1.00" stroke-width="3.20" stroke-linecap="round" fill="none"/><path d="M593.95,642.40 Q600.60,641.40 607.25,642.40" stroke="#000" stroke-opacity="1.00" stroke-width="3.20" stroke-linecap="round" fill="none"/><path d="M613.35,642.40 Q620.00,641.40 626.65,642.40" stroke="#000" stroke-opacity="1.00" stroke-width="3.20" stroke-linecap="round" fill="none"/><path d="M633.35,642.40 Q640.00,641.40 646.65,642.40" stroke="#000" stroke-opacity="1.00" stroke-width="3.20" stroke-linecap="round" fill="none"/><path d="M416.50,645.20 Q423.30,644.80 430.10,645.20" stroke="#000" stroke-opacity="0.25" stroke-width="2.40" stroke-linecap="round" fill="none"/><path d="M436.50,645.20 Q443.30,644.80 450.10,645.20" stroke="#000" stroke-opacity="0.25" stroke-width="2.40" stroke-linecap="round" fill="none"/><path d="M456.50,645.20 Q463.30,644.80 470.10,645.20" stroke="#000" stroke-opacity="0.25" stroke-width="2.40" stroke-linecap="round" fill="none"/><path d="M476.50,645.20 Q483.30,644.80 490.10,645.20" stroke="#000" stroke-opacity="0.25" stroke-width="2.40" stroke-linecap="round" fill="none"/><path d="M497.40,645.20 Q504.20,644.80 511.00,645.20" stroke="#000" stroke-opacity="0.25" stroke-width="2.40" stroke-linecap="round" fill="none"/><path d="M516.40,645.20 Q523.20,644.80 530.00,645.20" stroke="#000" stroke-opacity="0.25" stroke-width="2.40" stroke-linecap="round" fill="none"/><path d="M535.70,645.20 Q542.50,644.80 549.30,645.20" stroke="#000" stroke-opacity="0.25" stroke-width="2.40" stroke-linecap="round" fill="none"/><path d="M554.70,645.20 Q561.50,644.80 568.30,645.20" stroke="#000" stroke-opacity="0.25" stroke-width="2.40" stroke-linecap="round" fill="none"/><path d="M574.00,645.20 Q580.80,644.80 587.60,645.20" stroke="#000" stroke-opacity="0.25" stroke-width="2.40" stroke-linecap="round" fill="none"/><path d="M593.80,645.20 Q600.60,644.80 607.40,645.20" stroke="#000" stroke-opacity="0.25" stroke-width="2.40" stroke-linecap="round" fill="none"/><path d="M613.20,645.20 Q620.00,644.80 626.80,645.20" stroke="#000" stroke-opacity="0.25" stroke-width="2.40" stroke-linecap="round" fill="none"/><path d="M633.20,645.20 Q640.00,644.80 646.80,645.20" stroke="#000" stroke-opacity="0.25" stroke-width="2.40" stroke-linecap="round" fill="none"/></g>
<text x="407.60" y="648.50" font-size="11.1" text-anchor="end" fill="#000" font-weight="bold" >IRF3</text>
<rect x="413.30" y="660.00" width="238.70" height="19.20" fill="#c7c7c7"/>
<rect x="413.30" y="660.00" width="238.70" height="19.20" fill="#000" filter="url(#noise)" opacity="0.22"/>
<g filter="url(#bl7)"><path d="M416.00,669.00 Q423.30,668.00 430.60,669.00" stroke="#000" stroke-opacity="1.00" stroke-width="5.20" stroke-linecap="round" fill="none"/><path d="M436.00,669.00 Q443.30,668.00 450.60,669.00" stroke="#000" stroke-opacity="1.00" stroke-width="5.20" stroke-linecap="round" fill="none"/><path d="M456.00,669.00 Q463.30,668.00 470.60,669.00" stroke="#000" stroke-opacity="1.00" stroke-width="5.20" stroke-linecap="round" fill="none"/><path d="M476.00,669.00 Q483.30,668.00 490.60,669.00" stroke="#000" stroke-opacity="1.00" stroke-width="5.20" stroke-linecap="round" fill="none"/><path d="M496.90,669.00 Q504.20,668.00 511.50,669.00" stroke="#000" stroke-opacity="1.00" stroke-width="5.20" stroke-linecap="round" fill="none"/><path d="M515.90,669.00 Q523.20,668.00 530.50,669.00" stroke="#000" stroke-opacity="1.00" stroke-width="5.20" stroke-linecap="round" fill="none"/><path d="M535.20,669.00 Q542.50,668.00 549.80,669.00" stroke="#000" stroke-opacity="1.00" stroke-width="5.20" stroke-linecap="round" fill="none"/><path d="M554.20,669.00 Q561.50,668.00 568.80,669.00" stroke="#000" stroke-opacity="1.00" stroke-width="5.20" stroke-linecap="round" fill="none"/><path d="M573.50,669.00 Q580.80,668.00 588.10,669.00" stroke="#000" stroke-opacity="1.00" stroke-width="5.20" stroke-linecap="round" fill="none"/><path d="M593.30,669.00 Q600.60,668.00 607.90,669.00" stroke="#000" stroke-opacity="1.00" stroke-width="5.20" stroke-linecap="round" fill="none"/><path d="M612.70,669.00 Q620.00,668.00 627.30,669.00" stroke="#000" stroke-opacity="1.00" stroke-width="5.20" stroke-linecap="round" fill="none"/><path d="M632.70,669.00 Q640.00,668.00 647.30,669.00" stroke="#000" stroke-opacity="1.00" stroke-width="5.20" stroke-linecap="round" fill="none"/></g>
<text x="407.60" y="672.00" font-size="11.1" text-anchor="end" fill="#000" font-weight="bold" >β-actin</text>
<g filter="url(#bl20)"><rect x="413.80" y="617.5" width="19" height="10.5" fill="#000" fill-opacity="0.62"/><rect x="433.80" y="617.5" width="19" height="10.5" fill="#000" fill-opacity="0.58"/><rect x="453.80" y="617.5" width="19" height="10.5" fill="#000" fill-opacity="0.4"/><rect x="473.80" y="617.5" width="19" height="10.5" fill="#000" fill-opacity="0.33"/><rect x="494.70" y="617.5" width="19" height="10.5" fill="#000" fill-opacity="0.07"/><rect x="513.70" y="617.5" width="19" height="10.5" fill="#000" fill-opacity="0.05"/><rect x="533.00" y="617.5" width="19" height="10.5" fill="#000" fill-opacity="0.05"/><rect x="552.00" y="617.5" width="19" height="10.5" fill="#000" fill-opacity="0.06"/><rect x="571.30" y="617.5" width="19" height="10.5" fill="#000" fill-opacity="0.06"/><rect x="591.10" y="617.5" width="19" height="10.5" fill="#000" fill-opacity="0.08"/><rect x="610.50" y="617.5" width="19" height="10.5" fill="#000" fill-opacity="0.09"/><rect x="630.50" y="617.5" width="19" height="10.5" fill="#000" fill-opacity="0.22"/></g>
<rect x="413.3" y="612.5" width="81.50" height="6" fill="#000" fill-opacity="0.55" filter="url(#bl20)"/>
<line x1="413.30" y1="611.00" x2="652.00" y2="611.00" stroke="#000" stroke-width="1.4" />
<line x1="413.30" y1="636.30" x2="652.00" y2="636.30" stroke="#000" stroke-width="1.4" />
<circle cx="500.4" cy="525.4" r="1.9" fill="#111"/>
<circle cx="500.6" cy="503.3" r="1.6" fill="#111"/>
<ellipse cx="563.4" cy="469" rx="1.3" ry="2.6" fill="#111"/>
<circle cx="507.7" cy="626.7" r="1.0" fill="#222"/>
<line x1="494.9" y1="460.8" x2="494.9" y2="682" stroke="#cf4a5a" stroke-width="1.4" stroke-dasharray="5.5 1.6 1.4 1.6"/>
<line x1="569.6" y1="460.8" x2="569.6" y2="682" stroke="#cf4a5a" stroke-width="1.4" stroke-dasharray="5.5 1.6 1.4 1.6"/>
<line x1="653.80" y1="471.50" x2="662.00" y2="471.50" stroke="#000" stroke-width="1.6" />
<text x="664.20" y="475.28" font-size="10.5" text-anchor="start" fill="#000" font-weight="bold" >100</text>
<line x1="653.80" y1="490.00" x2="662.00" y2="490.00" stroke="#000" stroke-width="1.6" />
<text x="664.20" y="493.78" font-size="10.5" text-anchor="start" fill="#000" font-weight="bold" >130</text>
<line x1="653.80" y1="502.30" x2="662.00" y2="502.30" stroke="#000" stroke-width="1.6" />
<text x="664.20" y="506.08" font-size="10.5" text-anchor="start" fill="#000" font-weight="bold" >100</text>
<line x1="653.80" y1="524.60" x2="662.00" y2="524.60" stroke="#000" stroke-width="1.6" />
<text x="664.20" y="528.38" font-size="10.5" text-anchor="start" fill="#000" font-weight="bold" >70</text>
<line x1="653.80" y1="548.60" x2="662.00" y2="548.60" stroke="#000" stroke-width="1.6" />
<text x="664.20" y="552.38" font-size="10.5" text-anchor="start" fill="#000" font-weight="bold" >70</text>
<line x1="653.80" y1="572.00" x2="662.00" y2="572.00" stroke="#000" stroke-width="1.6" />
<text x="664.20" y="575.78" font-size="10.5" text-anchor="start" fill="#000" font-weight="bold" >65</text>
<line x1="653.80" y1="597.30" x2="662.00" y2="597.30" stroke="#000" stroke-width="1.6" />
<text x="664.20" y="601.08" font-size="10.5" text-anchor="start" fill="#000" font-weight="bold" >65</text>
<line x1="653.80" y1="617.50" x2="662.00" y2="617.50" stroke="#000" stroke-width="1.6" />
<text x="664.20" y="621.28" font-size="10.5" text-anchor="start" fill="#000" font-weight="bold" >55</text>
<line x1="653.80" y1="644.40" x2="662.00" y2="644.40" stroke="#000" stroke-width="1.6" />
<text x="664.20" y="648.18" font-size="10.5" text-anchor="start" fill="#000" font-weight="bold" >55</text>
<line x1="653.80" y1="674.30" x2="662.00" y2="674.30" stroke="#000" stroke-width="1.6" />
<text x="664.20" y="678.08" font-size="10.5" text-anchor="start" fill="#000" font-weight="bold" >40</text>
<text x="684.00" y="475.30" font-size="10.5" text-anchor="start" fill="#000" font-weight="bold" >(kDa)</text>
</svg></body></html>
